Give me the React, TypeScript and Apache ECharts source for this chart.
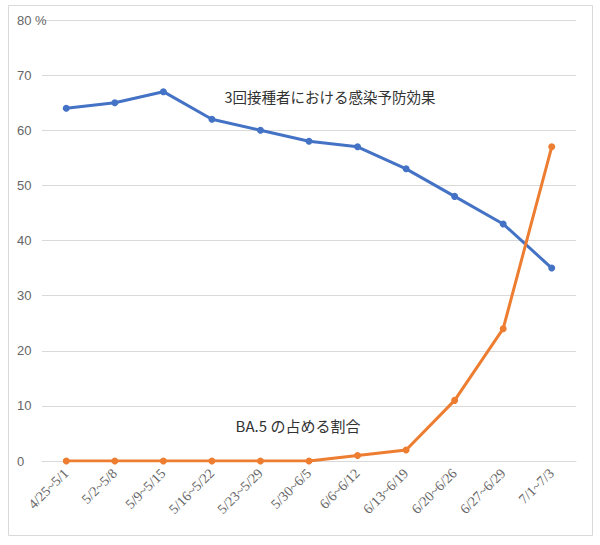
import React, { useEffect, useRef } from "react";
import * as echarts from "echarts";

const categories = [
  "4/25~5/1", "5/2~5/8", "5/9~5/15", "5/16~5/22", "5/23~5/29", "5/30~6/5",
  "6/6~6/12", "6/13~6/19", "6/20~6/26", "6/27~6/29", "7/1~7/3",
];
const vaccineEffect = [64, 65, 67, 62, 60, 58, 57, 53, 48, 43, 35];
const ba5Share = [0, 0, 0, 0, 0, 0, 1, 2, 11, 24, 57];
const effectLabel = "3回接種者における感染予防効果";
const ba5Label = "BA.5 の占める割合";

export default function App() {
  const ref = useRef<HTMLDivElement>(null);
  useEffect(() => {
    if (!ref.current) return;
    const chart = echarts.init(ref.current, undefined, { renderer: "svg" });
    chart.setOption({
      animation: false,
      backgroundColor: "#ffffff",
      grid: { left: 42, right: 24, top: 20, bottom: 84, containLabel: false },
      xAxis: {
        type: "category",
        data: categories,
        boundaryGap: true,
        axisLine: { lineStyle: { color: "#d9d9d9" } },
        axisTick: { show: false },
        axisLabel: {
          rotate: 45,
          margin: 10,
          color: "#666666",
          fontSize: 14,
          fontFamily: "Liberation Serif, DejaVu Serif, serif",
          interval: 0,
        },
      },
      yAxis: {
        type: "value",
        min: 0,
        max: 80,
        interval: 10,
        axisLine: { show: false },
        axisTick: { show: false },
        splitLine: { lineStyle: { color: "#d9d9d9" } },
        axisLabel: {
          align: "left",
          margin: 25,
          color: "#666666",
          fontSize: 13,
          fontFamily: "Liberation Sans, Noto Sans, sans-serif",
          formatter: (v: number) => (v === 80 ? "80 %" : String(v)),
        },
      },
      series: [
        {
          name: effectLabel,
          type: "line",
          data: vaccineEffect,
          symbol: "circle",
          symbolSize: 7,
          lineStyle: { color: "#4472C4", width: 3 },
          itemStyle: { color: "#4472C4" },
        },
        {
          name: ba5Label,
          type: "line",
          data: ba5Share,
          symbol: "circle",
          symbolSize: 7,
          lineStyle: { color: "#ED7D31", width: 3 },
          itemStyle: { color: "#ED7D31" },
        },
      ],
      graphic: [
        {
          type: "rect",
          shape: { x: 8.5, y: 5.5, width: 584, height: 530 },
          style: { fill: "none", stroke: "#d9d9d9", lineWidth: 1 },
          silent: true,
        },
        {
          type: "text",
          x: 330,
          y: 96,
          style: {
            text: effectLabel,
            fill: "#333333",
            fontSize: 14.5,
            fontFamily: "Noto Sans CJK JP, sans-serif",
            align: "center",
            verticalAlign: "middle",
          },
        },
        {
          type: "text",
          x: 298,
          y: 425,
          style: {
            text: ba5Label,
            fill: "#333333",
            fontSize: 15,
            fontFamily: "Noto Sans CJK JP, sans-serif",
            align: "center",
            verticalAlign: "middle",
          },
        },
      ],
    });
    return () => chart.dispose();
  }, []);
  return (
    <div
      ref={ref}
      style={{ position: "absolute", left: 0, top: 0, width: 600, height: 545 }}
    />
  );
}
